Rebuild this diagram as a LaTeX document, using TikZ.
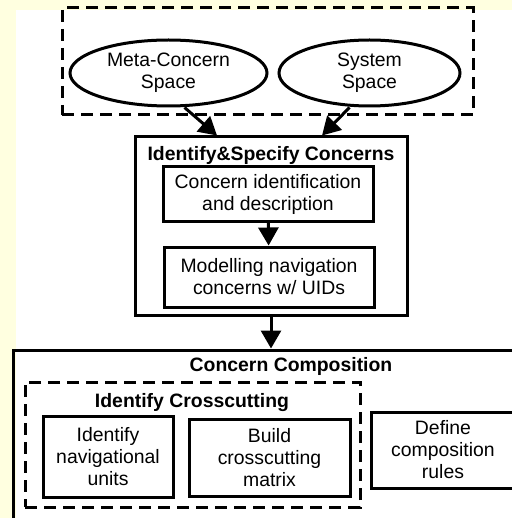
\documentclass[tikz,border=0pt]{standalone}
\usepackage{fontspec}
\setmainfont{Liberation Sans}
\usetikzlibrary{shapes.geometric, arrows.meta, positioning}
\definecolor{paleyellow}{RGB}{255,255,224}

\begin{document}
\begin{tikzpicture}[
    x=0.5pt, y=-0.5pt,
    every node/.style={font=\fontsize{9.7}{11}\selectfont},
    oval/.style={ellipse, draw, line width=1.5pt, minimum height=33pt, align=center, inner sep=0pt},
    block/.style={rectangle, draw, line width=1.5pt, align=center, inner sep=0pt},
    group/.style={rectangle, draw, line width=1.5pt, dash pattern=on 6pt off 3.5pt},
    heading/.style={font=\fontsize{9.7}{11}\selectfont\bfseries, inner sep=0pt},
    arrow/.style={-{Triangle[length=9pt, width=10pt]}, line width=1.5pt}
]
    % Page and background
    \useasboundingbox (0,0) rectangle (512,518);
    \clip (0,0) rectangle (512,518);
    \fill[paleyellow] (0,0) rectangle (512,518);
    \fill[white] (16,10) rectangle (512,518);

    % Spaces - Top
    \node[group, minimum width=205.5pt, minimum height=53.5pt] (spaces) at (267.5,61.5) {};
    \node[oval, minimum width=98.5pt] (meta) at (168.5,73) {Meta-Concern\\Space};
    \node[oval, minimum width=90.5pt] (sys) at (369.5,73) {System\\Space};

    % Identify & specify - Middle
    \node[block, minimum width=136pt, minimum height=89pt] (ident) at (271,226) {};
    \node[heading] (identtitle) at (271,155) {Identify\&Specify Concerns};
    \node[block, minimum width=105pt, minimum height=27pt] (cid) at (268,194) {Concern identification\\and description};
    \node[block, minimum width=105pt, minimum height=30pt] (model) at (269,277) {Modelling navigation\\concerns w/ UIDs};

    % Composition - Bottom
    \node[block, minimum width=278pt, minimum height=97.5pt] (comp) at (291,447.5) {};
    \node[heading] (comptitle) at (291,366.5) {Concern Composition};
    \node[group, minimum width=167.5pt, minimum height=62.5pt] (cross) at (192.5,444.5) {};
    \node[heading] (crosstitle) at (192,402.5) {Identify Crosscutting};
    \node[block, minimum width=65pt, minimum height=40.5pt] (units) at (108,456.5) {Identify\\navigational\\units};
    \node[block, minimum width=80.5pt, minimum height=38.5pt] (matrix) at (269.5,457.5) {Build\\crosscutting\\matrix};
    \node[block, minimum width=72pt, minimum height=38pt] (rules) at (443,450) {Define\\composition\\rules};

    % Arrows
    \draw[arrow] ([xshift=8pt]meta.south) -- ([xshift=-27pt]ident.north);
    \draw[arrow] ([xshift=-10pt]sys.south) -- ([xshift=25.5pt]ident.north);
    \draw[arrow] (cid) -- (model);
    \draw[arrow] (ident.south) -- (ident.south |- comp.north);
\end{tikzpicture}
\end{document}
